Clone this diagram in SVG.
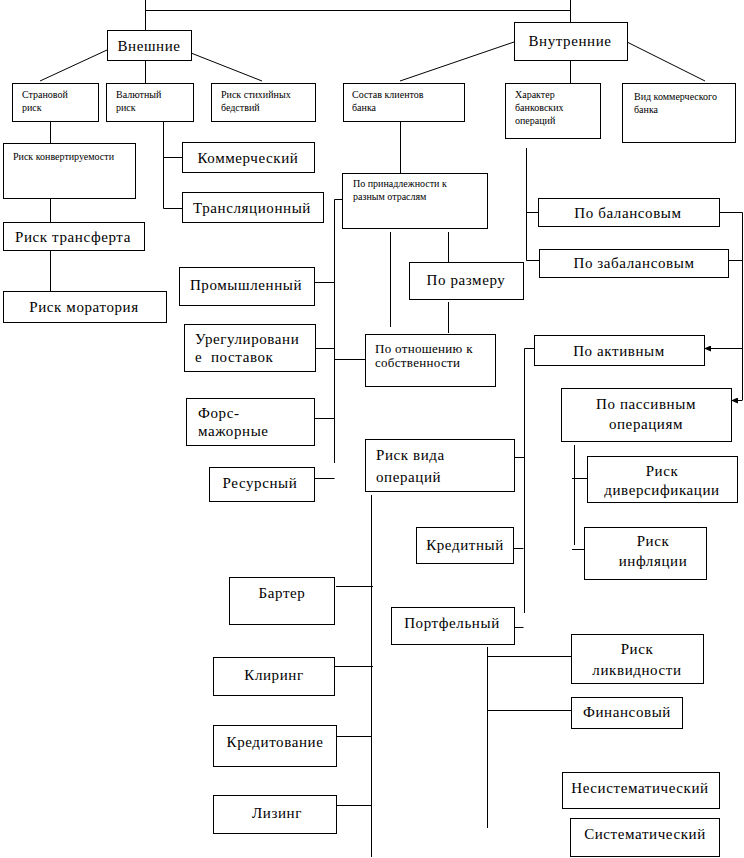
<svg xmlns="http://www.w3.org/2000/svg" width="744" height="858" viewBox="0 0 744 858" font-family="Liberation Serif, DejaVu Serif, serif">
<style>
rect{fill:#fff;stroke:#000;stroke-width:1}
.c path{fill:none;stroke:#000;stroke-width:1}
text{fill:#000}
.t{font-size:15px;letter-spacing:0.6px}
.m{font-size:13px;letter-spacing:0.3px}
.s{font-size:10px}
.mid{text-anchor:middle}
</style>
<defs>
<marker id="ah" markerWidth="7" markerHeight="6" refX="7" refY="3" orient="auto" markerUnits="userSpaceOnUse">
<path d="M0,0 L7,3 L0,6 z" fill="#000"/>
</marker>
</defs>
<rect x="0" y="0" width="744" height="858" style="stroke:none"/>
<g class="c" id="connectors">
<path d="M145.5,0 V30 M145.5,10.5 H570.5 M570.5,0 V22"/>
<path d="M107,50 L40,81 M145.5,60 V83 M191,53 L262,81"/>
<path d="M514,42 L400,81 M570.5,60 V83 M627,42 L705,81"/>
<path d="M50.5,121 V143 M50.5,198 V222 M50.5,250 V291"/>
<path d="M163.5,121 V208.5 H182 M163.5,157.5 H182"/>
<path d="M400.5,121 V173"/>
<path d="M526.5,148 V260.5 H539 M526.5,212.5 H538"/>
<path d="M719,212.5 H742.5 V400 M728,260.5 H742.5"/>
<path d="M742.5,348.5 H704" marker-end="url(#ah)"/>
<path d="M742.5,400.5 H731" marker-end="url(#ah)"/>
<path d="M342,199.5 H334.5 V463 M314,282.5 H334.5 M315,348.5 H334.5 M334.5,359.5 H365 M314,418.5 H334.5 M314,478.5 H334.5"/>
<path d="M390.5,232 V327 M448.5,232 V262 M448.5,302 V333"/>
<path d="M534,348.5 H524.5 V613 M514,457.5 H524.5 M513,548.5 H523.5 M514,627.5 H523.5"/>
<path d="M371.5,495 V857 M336,586.5 H373 M334,666.5 H373 M336,736.5 H371.5 M336,805.5 H371.5"/>
<path d="M487.5,647 V828 M487.5,656.5 H571 M487.5,710.5 H571"/>
<path d="M574.5,445 V545 M572,478.5 H587 M572,549.5 H584"/>
</g>
<g id="n-vneshnie"><rect x="107.5" y="30.5" width="84" height="30"/><text class="t mid" x="149" y="51">Внешние</text></g>
<g id="n-vnutrennie"><rect x="514.5" y="22.5" width="113" height="38"/><text class="t mid" x="570" y="46">Внутренние</text></g>
<g id="n-stranovoy"><rect x="12.5" y="83.5" width="86" height="38"/><text class="s" x="22" y="98">Страновой</text><text class="s" x="22" y="111">риск</text></g>
<g id="n-valutny"><rect x="106.5" y="83.5" width="87" height="38"/><text class="s" x="116" y="98">Валютный</text><text class="s" x="116" y="111">риск</text></g>
<g id="n-stihiynyh"><rect x="211.5" y="83.5" width="104" height="38"/><text class="s" x="221" y="98">Риск стихийных</text><text class="s" x="221" y="111">бедствий</text></g>
<g id="n-sostav"><rect x="343.5" y="83.5" width="121" height="38"/><text class="s" x="352" y="98">Состав клиентов</text><text class="s" x="352" y="111">банка</text></g>
<g id="n-harakter"><rect x="505.5" y="83.5" width="95" height="55"/><text class="s" x="515" y="98">Характер</text><text class="s" x="515" y="111">банковских</text><text class="s" x="515" y="124">операций</text></g>
<g id="n-vid"><rect x="622.5" y="83.5" width="113" height="59"/><text class="s" x="634" y="100">Вид коммерческого</text><text class="s" x="634" y="113">банка</text></g>
<g id="n-konvert"><rect x="3.5" y="143.5" width="132" height="55"/><text class="s" x="13" y="160">Риск конвертируемости</text></g>
<g id="n-kommerch"><rect x="182.5" y="142.5" width="132" height="30"/><text class="t mid" x="248" y="163">Коммерческий</text></g>
<g id="n-translyac"><rect x="182.5" y="192.5" width="141" height="30"/><text class="t mid" x="252" y="213">Трансляционный</text></g>
<g id="n-transfert"><rect x="3.5" y="222.5" width="141" height="28"/><text class="t mid" x="73" y="242">Риск трансферта</text></g>
<g id="n-moratoriy"><rect x="3.5" y="291.5" width="163" height="31"/><text class="t mid" x="84" y="312">Риск моратория</text></g>
<g id="n-prinadl"><rect x="342.5" y="173.5" width="145" height="55"/><text class="s" x="353" y="187">По принадлежности к</text><text class="s" x="353" y="200">разным отраслям</text></g>
<g id="n-balans"><rect x="538.5" y="198.5" width="181" height="28"/><text class="t mid" x="628" y="218">По балансовым</text></g>
<g id="n-zabalans"><rect x="539.5" y="249.5" width="189" height="28"/><text class="t mid" x="634" y="268">По забалансовым</text></g>
<g id="n-razmer"><rect x="409.5" y="262.5" width="114" height="37"/><text class="t mid" x="466" y="285">По размеру</text></g>
<g id="n-promysh"><rect x="179.5" y="267.5" width="135" height="38"/><text class="t mid" x="246" y="290">Промышленный</text></g>
<g id="n-uregul"><rect x="184.5" y="324.5" width="131" height="47"/><text class="t" x="195" y="344">Урегулировани</text><text class="t" x="195" y="362" xml:space="preserve">е  поставок</text></g>
<g id="n-otnosh"><rect x="365.5" y="334.5" width="130" height="52"/><text class="m" x="375" y="353">По отношению к</text><text class="m" x="375" y="367">собственности</text></g>
<g id="n-aktiv"><rect x="534.5" y="335.5" width="170" height="30"/><text class="t mid" x="619" y="356">По активным</text></g>
<g id="n-passiv"><rect x="561.5" y="388.5" width="170" height="53"/><text class="t mid" x="646" y="409">По пассивным</text><text class="t mid" x="646" y="429">операциям</text></g>
<g id="n-fors"><rect x="186.5" y="398.5" width="128" height="47"/><text class="t" x="198" y="418">Форс-</text><text class="t" x="198" y="436">мажорные</text></g>
<g id="n-vida"><rect x="365.5" y="439.5" width="149" height="52"/><text class="t" x="376" y="460">Риск вида</text><text class="t" x="376" y="482">операций</text></g>
<g id="n-divers"><rect x="587.5" y="456.5" width="150" height="46"/><text class="t mid" x="662" y="476">Риск</text><text class="t mid" x="662" y="495">диверсификации</text></g>
<g id="n-resurs"><rect x="209.5" y="467.5" width="105" height="34"/><text class="t mid" x="260" y="488">Ресурсный</text></g>
<g id="n-inflyac"><rect x="584.5" y="527.5" width="122" height="52"/><text class="t mid" x="653" y="546">Риск</text><text class="t mid" x="653" y="566">инфляции</text></g>
<g id="n-kredit"><rect x="416.5" y="527.5" width="97" height="36"/><text class="t mid" x="465" y="550">Кредитный</text></g>
<g id="n-barter"><rect x="229.5" y="577.5" width="105" height="47"/><text class="t mid" x="282" y="598">Бартер</text></g>
<g id="n-portfel"><rect x="391.5" y="607.5" width="123" height="37"/><text class="t mid" x="452" y="628">Портфельный</text></g>
<g id="n-likvid"><rect x="571.5" y="634.5" width="132" height="49"/><text class="t mid" x="637" y="654">Риск</text><text class="t mid" x="637" y="675">ликвидности</text></g>
<g id="n-kliring"><rect x="213.5" y="657.5" width="121" height="38"/><text class="t mid" x="274" y="680">Клиринг</text></g>
<g id="n-finans"><rect x="571.5" y="697.5" width="111" height="31"/><text class="t mid" x="627" y="717">Финансовый</text></g>
<g id="n-kreditovanie"><rect x="213.5" y="725.5" width="123" height="41"/><text class="t mid" x="275" y="747">Кредитование</text></g>
<g id="n-nesistem"><rect x="562.5" y="772.5" width="157" height="36"/><text class="t mid" x="640" y="793">Несистематический</text></g>
<g id="n-lizing"><rect x="213.5" y="795.5" width="123" height="38"/><text class="t mid" x="277" y="818">Лизинг</text></g>
<g id="n-sistem"><rect x="570.5" y="818.5" width="149" height="38"/><text class="t mid" x="645" y="839">Систематический</text></g>
</svg>
